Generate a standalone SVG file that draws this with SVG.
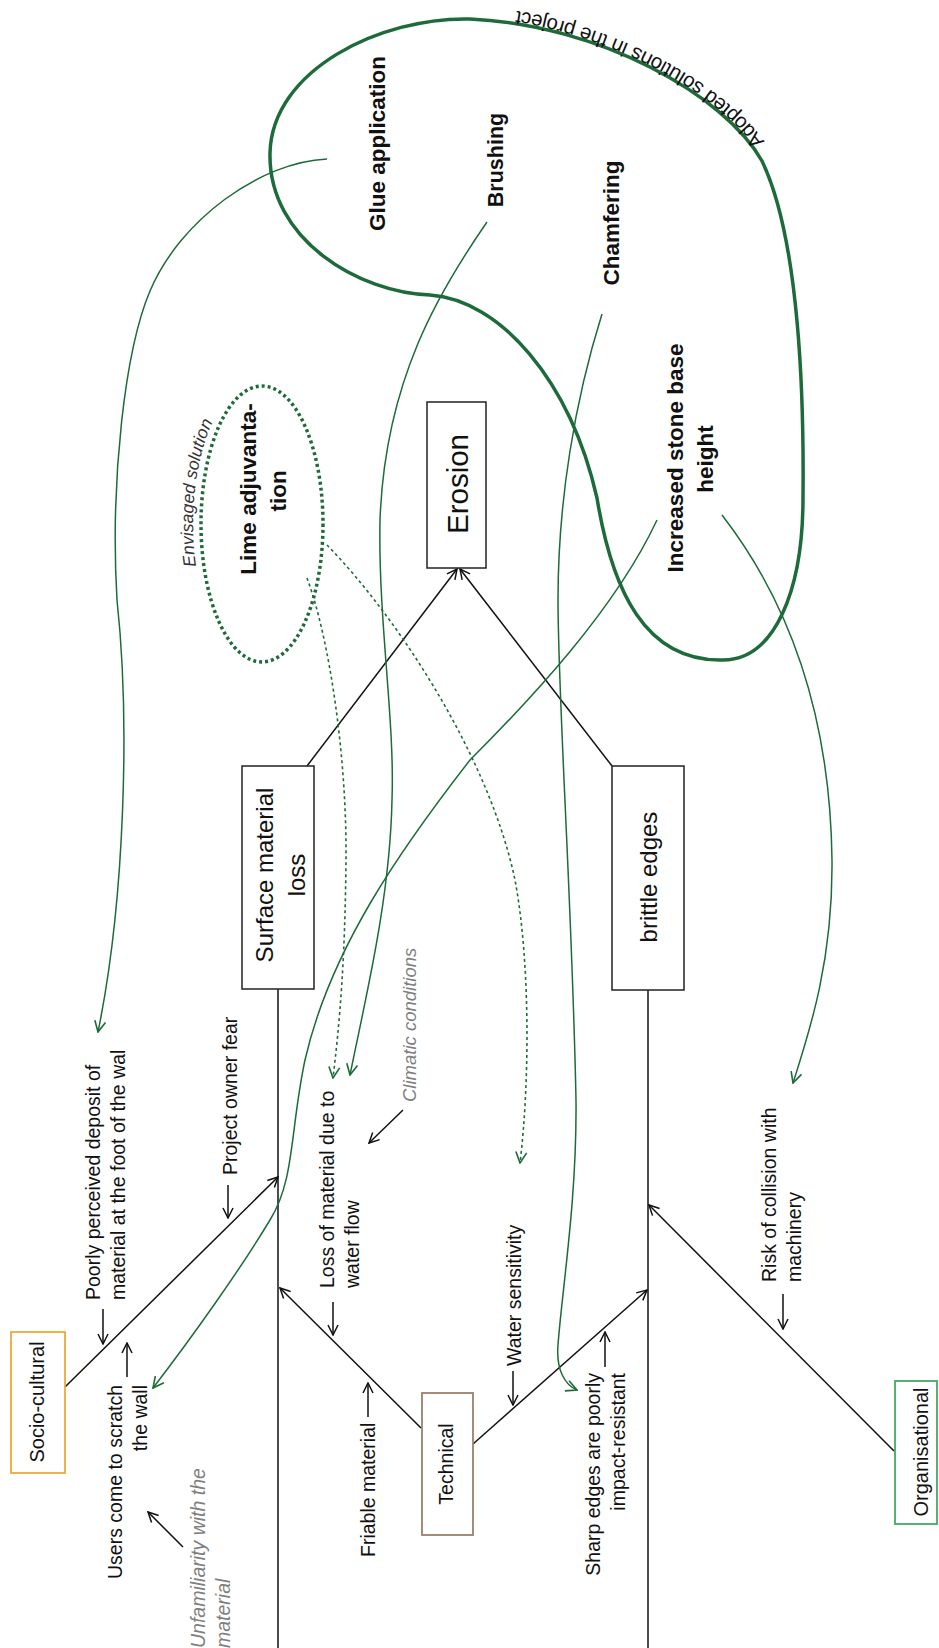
<svg xmlns="http://www.w3.org/2000/svg" width="939" height="1648" viewBox="0 0 939 1648">
<defs>
<style>
.t{font-family:"Liberation Sans",Arial,sans-serif;font-size:19.5px;fill:#111}
.b{font-weight:bold;font-size:22.5px}
.i{font-style:italic;fill:#7f7f7f}
.s20{font-size:20px}
.s205{font-size:20.5px}
.s215{font-size:21.5px}
.s24{font-size:24px}
.s29{font-size:29.5px}
.s185{font-size:18.5px}
.env{font-style:italic;font-size:17.5px;fill:#333}
.box{fill:#fff;stroke:#222;stroke-width:1.5}
.ln{fill:none;stroke:#111;stroke-width:1.5}
.g{fill:none;stroke:#1d6b3a;stroke-width:1.5}
.gd{fill:none;stroke:#1d6b3a;stroke-width:1.6;stroke-dasharray:3 3}
</style>
<marker id="ah" viewBox="0 0 12 12" refX="11" refY="6" markerWidth="12" markerHeight="12" markerUnits="userSpaceOnUse" orient="auto"><path d="M1,1 L11,6 L1,11" fill="none" stroke="#111" stroke-width="1.5"/></marker>
<marker id="ahg" viewBox="0 0 12 12" refX="11" refY="6" markerWidth="13" markerHeight="13" markerUnits="userSpaceOnUse" orient="auto"><path d="M1,1 L11,6 L1,11" fill="none" stroke="#1d6b3a" stroke-width="1.5"/></marker>
<path id="adoptedPath" d="M 773,155 C 736,87 603,12 470,6"/>
<path id="envPath" d="M 196,566 A 67,144 0 0 1 262,380"/>
</defs>
<rect width="939" height="1648" fill="#fff"/>

<g id="connectors">
  <line class="ln" x1="278" y1="989" x2="278" y2="1648"/>
  <line class="ln" x1="648" y1="990" x2="648" y2="1648"/>
  <line class="ln" x1="307" y1="766" x2="457" y2="569" marker-end="url(#ah)"/>
  <line class="ln" x1="612" y1="766" x2="460" y2="569" marker-end="url(#ah)"/>
  <line class="ln" x1="65" y1="1387" x2="278" y2="1177" marker-end="url(#ah)"/>
  <line class="ln" x1="421" y1="1428" x2="280" y2="1288" marker-end="url(#ah)"/>
  <line class="ln" x1="473" y1="1444" x2="647" y2="1290" marker-end="url(#ah)"/>
  <line class="ln" x1="894" y1="1451" x2="649" y2="1205" marker-end="url(#ah)"/>
  <line class="ln" x1="103" y1="1309" x2="103" y2="1344" marker-end="url(#ah)"/>
  <line class="ln" x1="127" y1="1377" x2="127" y2="1343" marker-end="url(#ah)"/>
  <line class="ln" x1="228" y1="1185" x2="228" y2="1218" marker-end="url(#ah)"/>
  <line class="ln" x1="333" y1="1302" x2="333" y2="1335" marker-end="url(#ah)"/>
  <line class="ln" x1="368" y1="1417" x2="368" y2="1383" marker-end="url(#ah)"/>
  <line class="ln" x1="513" y1="1371" x2="513" y2="1405" marker-end="url(#ah)"/>
  <line class="ln" x1="605" y1="1367" x2="605" y2="1332" marker-end="url(#ah)"/>
  <line class="ln" x1="783" y1="1294" x2="783" y2="1329" marker-end="url(#ah)"/>
  <line class="ln" x1="183" y1="1547" x2="148" y2="1512" marker-end="url(#ah)"/>
  <line class="ln" x1="403" y1="1110" x2="369" y2="1143" marker-end="url(#ah)"/>
  <path class="g" d="M 327,159 C 260,162 180,220 150,291 C 125,350 110,480 117,600 C 130,720 125,900 98,1032" marker-end="url(#ahg)"/>
  <path class="g" d="M 487,222 C 440,290 385,380 380,520 C 378,620 395,720 392,800 C 390,900 365,1000 350,1075" marker-end="url(#ahg)"/>
  <path class="g" d="M 602,314 C 575,400 558,500 558,600 C 558,700 572,900 576,1100 C 577,1200 562,1290 558,1345 C 556,1370 565,1385 577,1390" marker-end="url(#ahg)"/>
  <path class="g" d="M 657,520 C 615,610 530,700 470,760 C 400,850 330,950 305,1060 C 290,1130 295,1180 270,1220 C 240,1270 190,1340 153,1388" marker-end="url(#ahg)"/>
  <path class="g" d="M 722,515 C 780,590 830,700 832,860 C 833,960 810,1030 793,1083" marker-end="url(#ahg)"/>
  <path class="gd" d="M 307,578 C 330,640 347,760 346,860 C 345,960 340,1020 333,1078" marker-end="url(#ahg)"/>
  <path class="gd" d="M 327,545 C 400,620 490,760 515,880 C 530,960 530,1080 520,1163" marker-end="url(#ahg)"/>
</g>

<g id="n-adopted">
  <path d="M 470,19 C 380,17 272,70 270,153 C 268,240 360,293 430,295 C 500,300 570,380 597,498 C 612,590 645,662 723,660 C 775,660 803,590 803,498 C 804,400 800,240 762,161 C 725,95 600,25 470,19 Z" fill="none" stroke="#1d6b3a" stroke-width="3.5"/>
  <text class="t s205"><textPath href="#adoptedPath" startOffset="16">Adopted solutions in the project</textPath></text>
</g>

<g id="n-lime">
  <ellipse cx="262" cy="524" rx="61" ry="138" fill="none" stroke="#1d6b3a" stroke-width="3.5" stroke-dasharray="3 3"/>
  <text class="t b" text-anchor="middle" transform="translate(256,489) rotate(-90)">Lime adjuvanta-</text>
  <text class="t b" text-anchor="middle" transform="translate(286,491) rotate(-90)">tion</text>
  <text class="t env"><textPath href="#envPath">Envisaged solution</textPath></text>
</g>

<g id="n-glue"><text class="t b" text-anchor="middle" transform="translate(385,143.5) rotate(-90)">Glue application</text></g>
<g id="n-brushing"><text class="t b s215" text-anchor="middle" transform="translate(503,160) rotate(-90)">Brushing</text></g>
<g id="n-chamfering"><text class="t b" text-anchor="middle" transform="translate(619,223) rotate(-90)">Chamfering</text></g>
<g id="n-increased">
  <text class="t b" text-anchor="middle" transform="translate(683,458) rotate(-90)">Increased stone base</text>
  <text class="t b" text-anchor="middle" transform="translate(713,459) rotate(-90)">height</text>
</g>

<g id="n-erosion">
  <rect class="box" x="427" y="402" width="59" height="166"/>
  <text class="t s29" text-anchor="middle" transform="translate(468,484) rotate(-90)">Erosion</text>
</g>
<g id="n-surface">
  <rect class="box" x="242" y="766" width="72" height="223"/>
  <text class="t s24" text-anchor="middle" transform="translate(273,875) rotate(-90)">Surface material</text>
  <text class="t s24" text-anchor="middle" transform="translate(305,875) rotate(-90)">loss</text>
</g>
<g id="n-brittle">
  <rect class="box" x="612" y="766" width="72" height="224"/>
  <text class="t s24" text-anchor="middle" transform="translate(657,877) rotate(-90)">brittle edges</text>
</g>
<g id="n-socio">
  <rect x="11" y="1332" width="54" height="141" fill="#fff" stroke="#eeaa38" stroke-width="1.8"/>
  <text class="t s20" text-anchor="middle" transform="translate(44,1402) rotate(-90)">Socio-cultural</text>
</g>
<g id="n-technical">
  <rect x="422" y="1393" width="51" height="142" fill="#fff" stroke="#9e7f6c" stroke-width="1.8"/>
  <text class="t" text-anchor="middle" transform="translate(453,1464) rotate(-90)">Technical</text>
</g>
<g id="n-organisational">
  <rect x="895" y="1381" width="42" height="143" fill="#fff" stroke="#45a863" stroke-width="1.8"/>
  <text class="t s20" text-anchor="middle" transform="translate(928,1452) rotate(-90)">Organisational</text>
</g>

<g id="c-poorly">
  <text class="t" transform="translate(100,1300) rotate(-90)">Poorly perceived deposit of</text>
  <text class="t" transform="translate(125,1300) rotate(-90)">material at the foot of the wal</text>
</g>
<g id="c-owner"><text class="t" transform="translate(237,1175) rotate(-90)">Project owner fear</text></g>
<g id="c-users">
  <text class="t" text-anchor="end" transform="translate(122,1385) rotate(-90)">Users come to scratch</text>
  <text class="t" text-anchor="end" transform="translate(147,1385) rotate(-90)">the wall</text>
</g>
<g id="c-unfamiliarity">
  <text class="t i" transform="translate(205,1648) rotate(-90)">Unfamiliarity with the</text>
  <text class="t i" transform="translate(230,1648) rotate(-90)">material</text>
</g>
<g id="c-climatic"><text class="t i s185" transform="translate(416,1102) rotate(-90)">Climatic conditions</text></g>
<g id="c-loss">
  <text class="t" transform="translate(334,1288) rotate(-90)">Loss of material due to</text>
  <text class="t" transform="translate(359,1288) rotate(-90)">water flow</text>
</g>
<g id="c-friable"><text class="t" transform="translate(375,1557) rotate(-90)">Friable material</text></g>
<g id="c-water"><text class="t" transform="translate(521,1366) rotate(-90)">Water sensitivity</text></g>
<g id="c-sharp">
  <text class="t" text-anchor="end" transform="translate(600,1373) rotate(-90)">Sharp edges are poorly</text>
  <text class="t" text-anchor="end" transform="translate(625,1373) rotate(-90)">impact-resistant</text>
</g>
<g id="c-risk">
  <text class="t" transform="translate(776,1282) rotate(-90)">Risk of collision with</text>
  <text class="t" transform="translate(801,1282) rotate(-90)">machinery</text>
</g>
</svg>
